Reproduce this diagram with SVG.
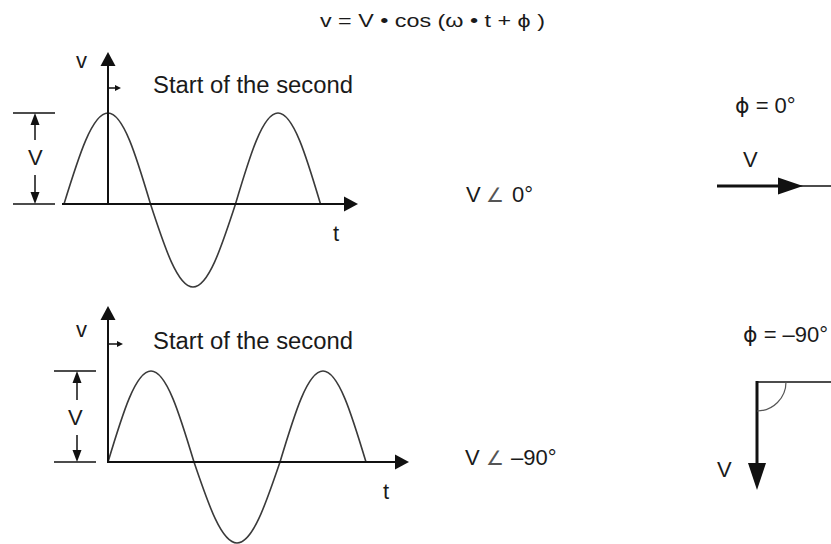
<svg xmlns="http://www.w3.org/2000/svg" width="831" height="544" viewBox="0 0 831 544">
<style>
text{font-family:"Liberation Sans",Arial,"DejaVu Sans",sans-serif;fill:#1a1a1a}
.lbl{font-size:22px}
.big{font-size:23px}
.phi{font-family:"DejaVu Sans","Liberation Sans",sans-serif}
.ang{font-family:"DejaVu Sans",sans-serif;fill:#555;font-size:20px}
.wave{fill:none;stroke:#3a3a3a;stroke-width:1.6}
.axis{stroke:#111;stroke-width:2;fill:none}
.thin{stroke:#111;stroke-width:1.5;fill:none}
.head{fill:#111}
</style>
<rect width="831" height="544" fill="#fff"/>
<text id="formula" transform="translate(320,27) scale(1.3,1)" x="0" y="0" font-size="19" textLength="173" lengthAdjust="spacingAndGlyphs">v = V • cos (ω • t + ϕ )</text>

<g id="graph-top">
<path class="wave" d="M64,204 C78.7,156.2 92.2,113 108,113 C123.3,113 136.3,156.2 150.5,204 C164.7,247.6 177.7,287 193,287 C208.3,287 221.3,247.6 235.5,204 C249.7,156.2 262.7,113 278,113 C293.3,113 306.3,156.2 320.5,204"/>
<line class="axis" x1="108" y1="64" x2="108" y2="204"/>
<polygon class="head" points="108,52 100.5,66 115.5,66"/>
<line class="axis" x1="62" y1="204" x2="346" y2="204"/>
<polygon class="head" points="358,204 344,196.5 344,211.5"/>
<line class="thin" x1="108" y1="88" x2="116" y2="88"/>
<polygon class="head" points="121,88 115,85 115,91"/>
<text class="lbl" x="76" y="68">v</text>
<text class="big" x="153" y="93" textLength="200" lengthAdjust="spacingAndGlyphs">Start of the second</text>
<text class="lbl" x="333" y="241">t</text>
<line class="thin" x1="13" y1="113" x2="55" y2="113"/>
<line class="thin" x1="13" y1="204" x2="55" y2="204"/>
<line class="thin" x1="35" y1="123" x2="35" y2="140"/>
<polygon class="head" points="35,113 30.5,125 39.5,125"/>
<line class="thin" x1="35" y1="175" x2="35" y2="194"/>
<polygon class="head" points="35,204 30.5,192 39.5,192"/>
<text class="lbl" x="28" y="165">V</text>
</g>

<g id="graph-bottom">
<path class="wave" d="M108,462 C122.4,414.2 135.5,371 151,371 C166.5,371 179.6,414.2 194,462 C208.4,504.5 221.5,543 237,543 C252.5,543 265.6,504.5 280,462 C294.4,414.2 307.5,371 323,371 C338.5,371 351.6,414.2 366,462"/>
<line class="axis" x1="108" y1="318" x2="108" y2="462"/>
<polygon class="head" points="108,306 100.5,320 115.5,320"/>
<line class="axis" x1="107" y1="462" x2="396" y2="462"/>
<polygon class="head" points="409,462 395,454.5 395,469.5"/>
<line class="thin" x1="108" y1="344" x2="118" y2="344"/>
<polygon class="head" points="123,344 117,341 117,347"/>
<text class="lbl" x="76" y="337">v</text>
<text class="big" x="153" y="349" textLength="200" lengthAdjust="spacingAndGlyphs">Start of the second</text>
<text class="lbl" x="383" y="499">t</text>
<line class="thin" x1="54" y1="371" x2="96" y2="371"/>
<line class="thin" x1="54" y1="462" x2="96" y2="462"/>
<line class="thin" x1="77" y1="381" x2="77" y2="400"/>
<polygon class="head" points="77,371 72.5,383 81.5,383"/>
<line class="thin" x1="77" y1="435" x2="77" y2="452"/>
<polygon class="head" points="77,462 72.5,450 81.5,450"/>
<text class="lbl" x="68" y="425">V</text>
</g>

<g id="polar-labels">
<text class="lbl" x="466" y="202">V<tspan class="ang" x="486">∠</tspan><tspan x="512">0°</tspan></text>
<text class="lbl" x="465" y="465">V<tspan class="ang" x="486">∠</tspan><tspan x="511">–90°</tspan></text>
</g>

<g id="phasor-top">
<text class="lbl" x="735" y="113"><tspan class="phi">ϕ</tspan> = 0°</text>
<text class="lbl" x="743" y="167">V</text>
<line x1="717" y1="186" x2="785" y2="186" stroke="#111" stroke-width="3"/>
<polygon class="head" points="803,186 778,177.5 778,194.5"/>
<line class="thin" x1="800" y1="186" x2="831" y2="186"/>
</g>

<g id="phasor-bottom">
<text class="lbl" x="743" y="342"><tspan class="phi">ϕ</tspan> = –90°</text>
<line class="thin" x1="756" y1="382" x2="831" y2="382"/>
<line x1="757" y1="381" x2="757" y2="466" stroke="#111" stroke-width="3"/>
<polygon class="head" points="757,490 748,463 766,463"/>
<path d="M786,382 A29,29 0 0 1 757,411" fill="none" stroke="#555" stroke-width="1.2"/>
<text class="lbl" x="717" y="477">V</text>
</g>
</svg>
